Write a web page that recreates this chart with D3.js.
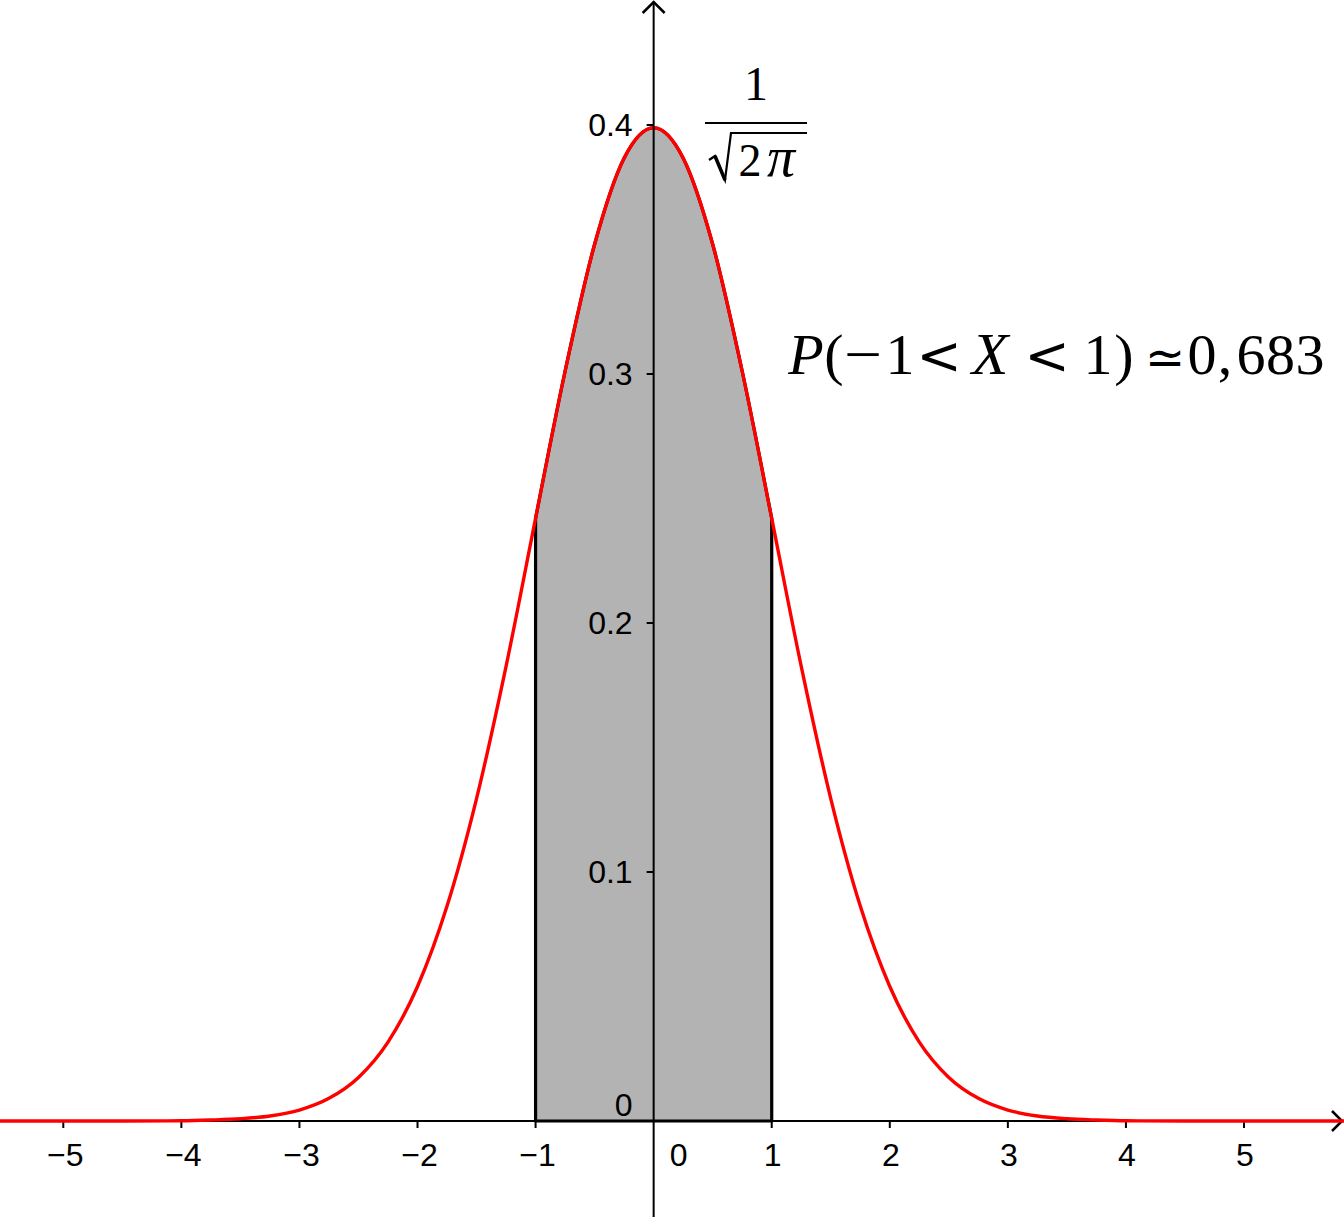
<!DOCTYPE html>
<html><head><meta charset="utf-8">
<script src="https://cdn.jsdelivr.net/npm/d3@7"></script>
<style>html,body{margin:0;padding:0;background:#fff;overflow:hidden}</style>
</head><body>
<svg id="chart" width="1344" height="1217"></svg>
<script>
// Density values (x, y)
const curveX = [-5.75,-5.5,-5,-4.5,-4,-3.75,-3.5,-3.25,-3,-2.75,-2.5,-2.25,-2,-1.75,-1.5,-1.25,-1,-0.75,-0.5,-0.25,0,0.25,0.5,0.75,1,1.25,1.5,1.75,2,2.25,2.5,2.75,3,3.25,3.5,3.75,4,4.5,5,5.5,6];
const curveY = [0,0,0,0,0.0001,0.0004,0.0009,0.0020,0.0044,0.0091,0.0175,0.0317,0.0540,0.0863,0.1295,0.1826,0.2420,0.3011,0.3521,0.3867,0.3989,0.3867,0.3521,0.3011,0.2420,0.1826,0.1295,0.0863,0.0540,0.0317,0.0175,0.0091,0.0044,0.0020,0.0009,0.0004,0.0001,0,0,0,0];
const shadeFrom = -1, shadeTo = 1;
const xTicks = [-5,-4,-3,-2,-1,0,1,2,3,4,5];
const yTicks = [0.1,0.2,0.3,0.4];
const peakLabelNum = "1";
const peakLabelDen = ["2","π"];
const probTokens = ["P","(","−","1","<","X","<","1",")","≃","0",",","6","8","3"];

// layout of the probability label tokens: centre x, font size, italic, stretched width, dy, alt font
const probLayout = [
  [806,58,true,0,0,0],[834,58,false,0,0,0],[863,58,false,38,0,0],[900,58,false,0,0,0],[939,54,false,0,0,1],
  [990,60,true,0,0,0],[1047,54,false,0,0,1],[1098,58,false,0,0,0],[1124,58,false,0,0,0],[1165,48,false,0,0,1],
  [1202,58,false,0,0,0],[1225,58,false,0,0,0],[1251,58,false,0,0,0],[1280.5,58,false,0,0,0],[1310,58,false,0,0,0]
];

const svg = d3.select("#chart");
const W = 1344, H = 1217;
const x = d3.scaleLinear().domain([-5, 5]).range([63.3, 1244]);
const y = d3.scaleLinear().domain([0, 0.4]).range([1121, 125]);
const x0 = x(0), y0 = y(0);
const sans = "'Liberation Sans', Arial, sans-serif";
const serif = "'Liberation Serif', 'DejaVu Serif', serif";
const mathSym = "'DejaVu Sans', sans-serif";
const labelSize = 32;

const pts = curveX.map((d,i)=>({x:d,y:curveY[i]}));
const shadePts = pts.filter(p=>p.x>=shadeFrom && p.x<=shadeTo);

// x axis
svg.append("line").attr("x1",0).attr("x2",W-2).attr("y1",y0).attr("y2",y0)
  .attr("stroke","#000").attr("stroke-width",2);
svg.append("path").attr("d",`M${W-12},${y0-10} L${W-2},${y0} L${W-12},${y0+10}`)
  .attr("fill","none").attr("stroke","#000").attr("stroke-width",2.5);

// x ticks and labels
xTicks.forEach(t=>{
  if (t!==0) svg.append("line").attr("x1",x(t)).attr("x2",x(t)).attr("y1",y0).attr("y2",y0+7)
    .attr("stroke","#000").attr("stroke-width",2);
  svg.append("text").attr("x", t===0 ? x(t)+25 : x(t)+ (t<0 ? 2 : 1)).attr("y",1166)
    .attr("text-anchor","middle").attr("font-family",sans).attr("font-size",labelSize)
    .text(d3.format("d")(t));
});

// shaded region
const area = d3.area().x(d=>x(d.x)).y0(y0).y1(d=>y(d.y)).curve(d3.curveMonotoneX);
svg.append("path").datum(shadePts).attr("d",area)
  .attr("fill","#b3b3b3").attr("stroke","#000").attr("stroke-width",3.2).attr("stroke-linejoin","round");

// red curve
const line = d3.line().x(d=>x(d.x)).y(d=>y(d.y)).curve(d3.curveMonotoneX);
svg.append("path").datum(pts).attr("d",line)
  .attr("fill","none").attr("stroke","#ff0000").attr("stroke-width",3.4);

// y axis
svg.append("line").attr("x1",x0).attr("x2",x0).attr("y1",2).attr("y2",H)
  .attr("stroke","#000").attr("stroke-width",2);
svg.append("path").attr("d",`M${x0-11},${13} L${x0},${2} L${x0+11},${13}`)
  .attr("fill","none").attr("stroke","#000").attr("stroke-width",2.5);
yTicks.forEach(t=>{
  svg.append("line").attr("x1",x0-7).attr("x2",x0).attr("y1",y(t)).attr("y2",y(t))
    .attr("stroke","#000").attr("stroke-width",2);
  svg.append("text").attr("x",x0-21).attr("y",y(t)+11)
    .attr("text-anchor","end").attr("font-family",sans).attr("font-size",labelSize)
    .text(d3.format(".1f")(t));
});
svg.append("text").attr("x",x0-21).attr("y",y0-5)
  .attr("text-anchor","end").attr("font-family",sans).attr("font-size",labelSize).text("0");

// peak label 1/sqrt(2π)
svg.append("text").attr("x",756).attr("y",100).attr("text-anchor","middle")
  .attr("font-family",serif).attr("font-size",48).text(peakLabelNum);
svg.append("line").attr("x1",705).attr("x2",807).attr("y1",123).attr("y2",123)
  .attr("stroke","#000").attr("stroke-width",2.2);
svg.append("path").attr("d","M709,160 L715,156 L725,180 L731,133 L807,133")
  .attr("fill","none").attr("stroke","#000").attr("stroke-width",2.2).attr("stroke-linejoin","miter");
svg.append("path").attr("d","M715,156 L725,180").attr("stroke","#000").attr("stroke-width",3.5);
svg.append("text").attr("x",750).attr("y",176).attr("text-anchor","middle")
  .attr("font-family",serif).attr("font-size",46).text(peakLabelDen[0]);
svg.append("text").attr("x",781).attr("y",176).attr("text-anchor","middle").attr("font-style","italic")
  .attr("font-family",serif).attr("font-size",56).text(peakLabelDen[1]);

// probability label
probTokens.forEach((s,i)=>{
  const [px, fs, it, w, dy, alt] = probLayout[i];
  const t = svg.append("text").attr("x",px).attr("y",374+dy).attr("text-anchor","middle")
    .attr("font-family",alt ? mathSym : serif).attr("font-size",fs)
    .attr("font-style", it ? "italic" : "normal").text(s);
  if (w) t.attr("textLength",w).attr("lengthAdjust","spacingAndGlyphs");
});
</script>
</body></html>
